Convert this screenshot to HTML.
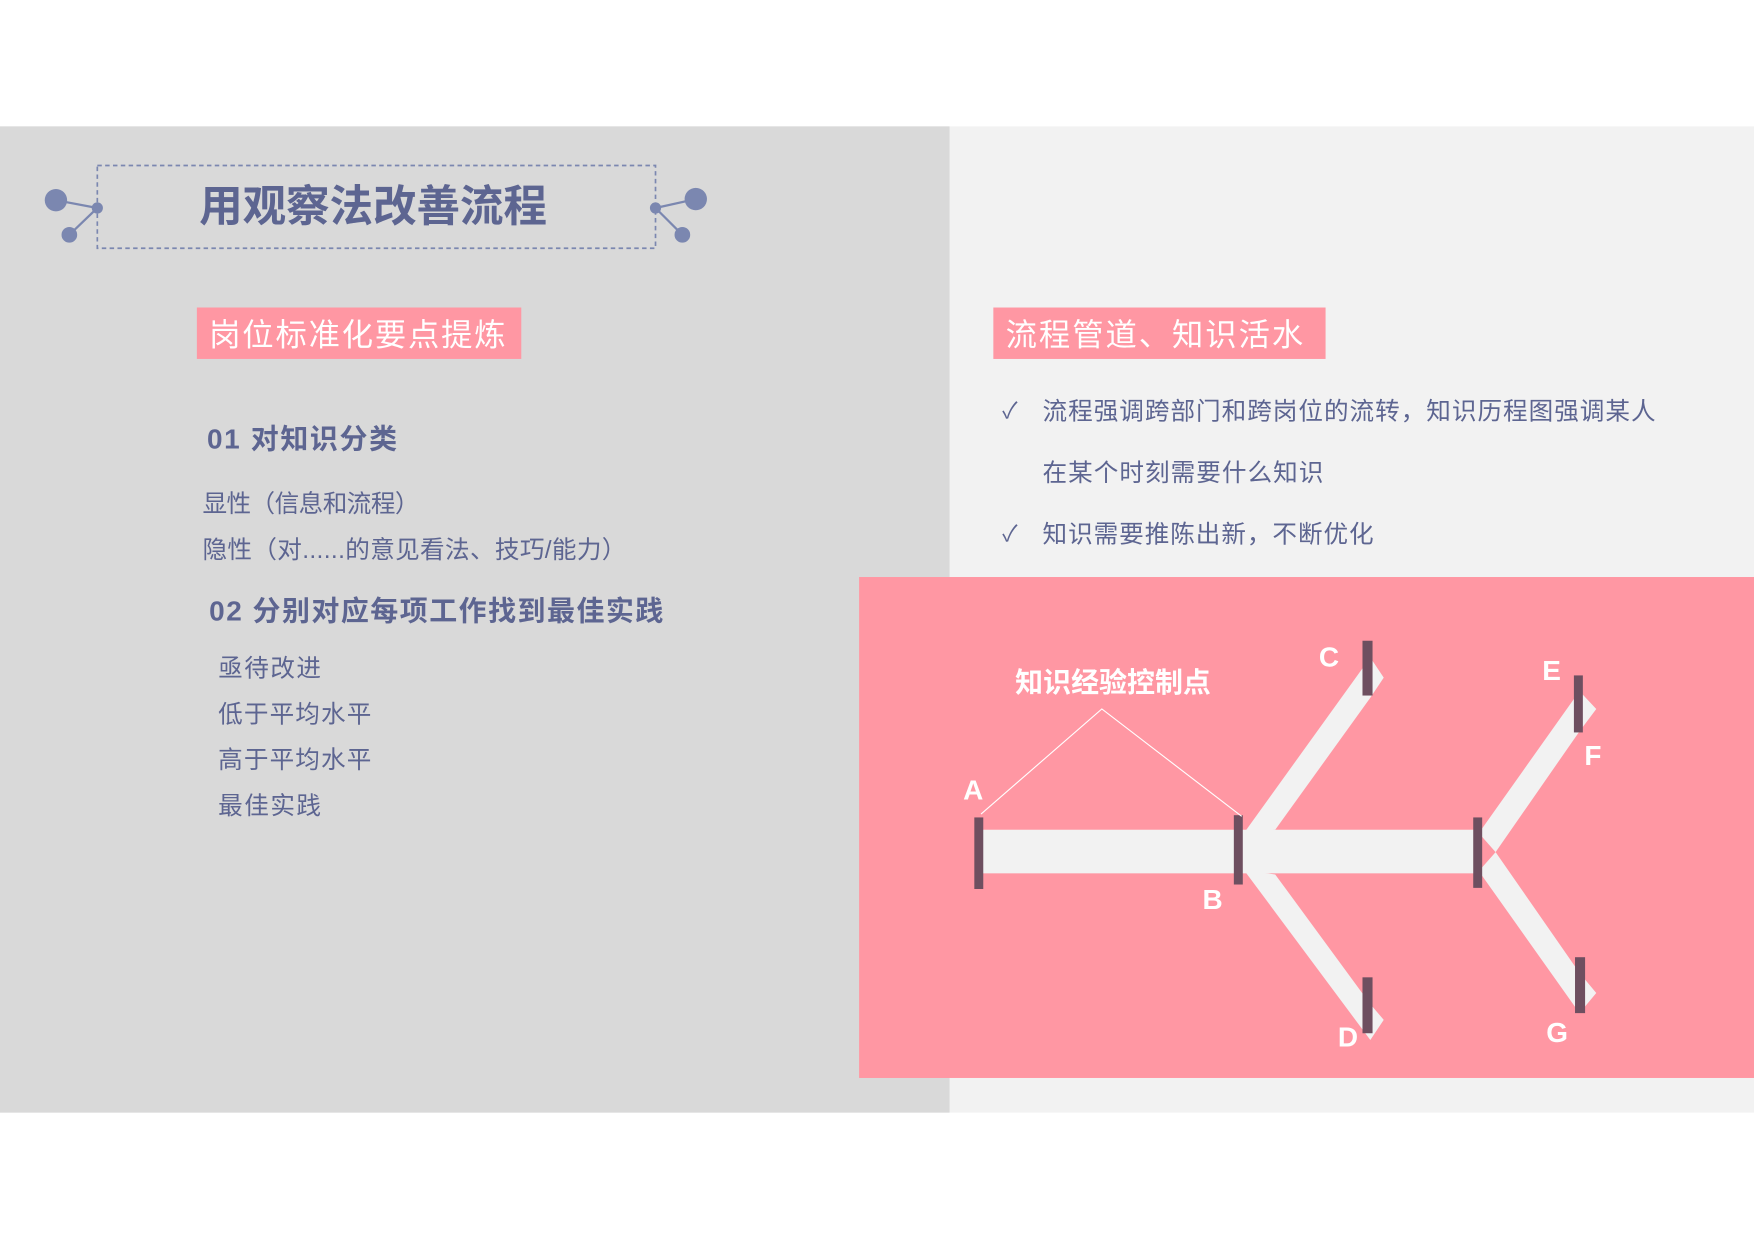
<!DOCTYPE html>
<html><head><meta charset="utf-8"><style>
html,body{margin:0;padding:0;background:#fff;}
svg{display:block;}
text{font-family:"Liberation Sans","Noto Sans CJK SC",sans-serif;}
</style></head><body>
<svg width="1754" height="1239" viewBox="0 0 1568 1108" preserveAspectRatio="none" xmlns="http://www.w3.org/2000/svg">
<rect x="0" y="0" width="1568" height="1108" fill="#fff"/>
<rect x="0" y="113" width="849" height="882" fill="#d9d9d9"/>
<rect x="849" y="113" width="719" height="882" fill="#f2f2f2"/>
<rect x="768" y="516" width="800" height="448" fill="#ff97a3"/>

<rect x="87" y="148" width="499" height="74" fill="none" stroke="#7b87b0" stroke-width="1.5" stroke-dasharray="4,3"/>
<text x="178" y="198" font-size="39" font-weight="bold" fill="#5d6591" textLength="311" lengthAdjust="spacing">用观察法改善流程</text>
<g fill="#7b87b0" stroke="#7b87b0" stroke-width="2">
<line x1="50" y1="179" x2="87" y2="186"/><line x1="62" y1="210" x2="87" y2="186"/>
<circle cx="50" cy="179" r="10" stroke="none"/><circle cx="62" cy="210" r="7" stroke="none"/><circle cx="87" cy="186" r="5" stroke="none"/>
<line x1="622" y1="178" x2="586" y2="186"/><line x1="610" y1="210" x2="586" y2="186"/>
<circle cx="622" cy="178" r="10" stroke="none"/><circle cx="610" cy="210" r="7" stroke="none"/><circle cx="586" cy="186" r="5" stroke="none"/>
</g>

<rect x="176" y="275" width="290" height="46" fill="#ff97a3"/>
<text x="187" y="309" font-size="28" fill="#fff" textLength="265" lengthAdjust="spacing">岗位标准化要点提炼</text>
<rect x="888" y="275" width="297" height="46" fill="#ff97a3"/>
<text x="899" y="309" font-size="28" fill="#fff" textLength="266" lengthAdjust="spacing">流程管道、知识活水</text>

<g fill="#5d6591">
<text x="185" y="401" font-size="25" font-weight="bold" textLength="170" lengthAdjust="spacing">01 对知识分类</text>
<text x="181" y="458" font-size="22" textLength="194" lengthAdjust="spacing">显性（信息和流程）</text>
<text x="181" y="499" font-size="22" textLength="379" lengthAdjust="spacing">隐性（对......的意见看法、技巧/能力）</text>
<text x="187" y="555" font-size="25" font-weight="bold" textLength="406" lengthAdjust="spacing">02 分别对应每项工作找到最佳实践</text>
<text x="195" y="605" font-size="22" textLength="92" lengthAdjust="spacing">亟待改进</text>
<text x="195" y="646" font-size="22" textLength="137" lengthAdjust="spacing">低于平均水平</text>
<text x="195" y="687" font-size="22" textLength="137" lengthAdjust="spacing">高于平均水平</text>
<text x="195" y="728" font-size="22" textLength="92" lengthAdjust="spacing">最佳实践</text>
<text x="896" y="374" font-size="20">✓</text>
<text x="932" y="375" font-size="22" textLength="548" lengthAdjust="spacing">流程强调跨部门和跨岗位的流转，知识历程图强调某人</text>
<text x="932" y="430" font-size="22" textLength="251" lengthAdjust="spacing">在某个时刻需要什么知识</text>
<text x="896" y="484" font-size="20">✓</text>
<text x="932" y="485" font-size="22" textLength="296" lengthAdjust="spacing">知识需要推陈出新，不断优化</text>
</g>

<g fill="#f2f2f2">
<rect x="875" y="742" width="447" height="39"/>
<polygon points="1112,745 1225,588 1237,606 1225,624 1140,742"/>
<polygon points="1112,778 1140,782 1225,898 1237,912 1225,930"/>
<polygon points="1322,745 1412,618 1427,634 1412,654 1337,762"/>
<polygon points="1322,779 1337,762 1412,870 1427,888 1412,906"/>
</g>
<g fill="#6e4f60">
<rect x="871" y="731" width="8" height="64"/>
<rect x="1103" y="729" width="8" height="62"/>
<rect x="1317" y="731" width="8" height="63"/>
<rect x="1218" y="573" width="9" height="49"/>
<rect x="1218" y="874" width="9" height="50"/>
<rect x="1407" y="604" width="8" height="51"/>
<rect x="1408" y="856" width="9" height="50"/>
</g>
<polyline points="877,728 985,634 1110,730" fill="none" stroke="#fff" stroke-width="1"/>
<g fill="#fff" font-weight="bold" font-size="25" text-anchor="middle">
<text x="995" y="619">知识经验控制点</text>
<text x="870" y="715">A</text>
<text x="1084" y="813">B</text>
<text x="1188" y="596">C</text>
<text x="1205" y="936">D</text>
<text x="1387" y="608">E</text>
<text x="1424" y="684">F</text>
<text x="1392" y="932">G</text>
</g>
</svg>
</body></html>
